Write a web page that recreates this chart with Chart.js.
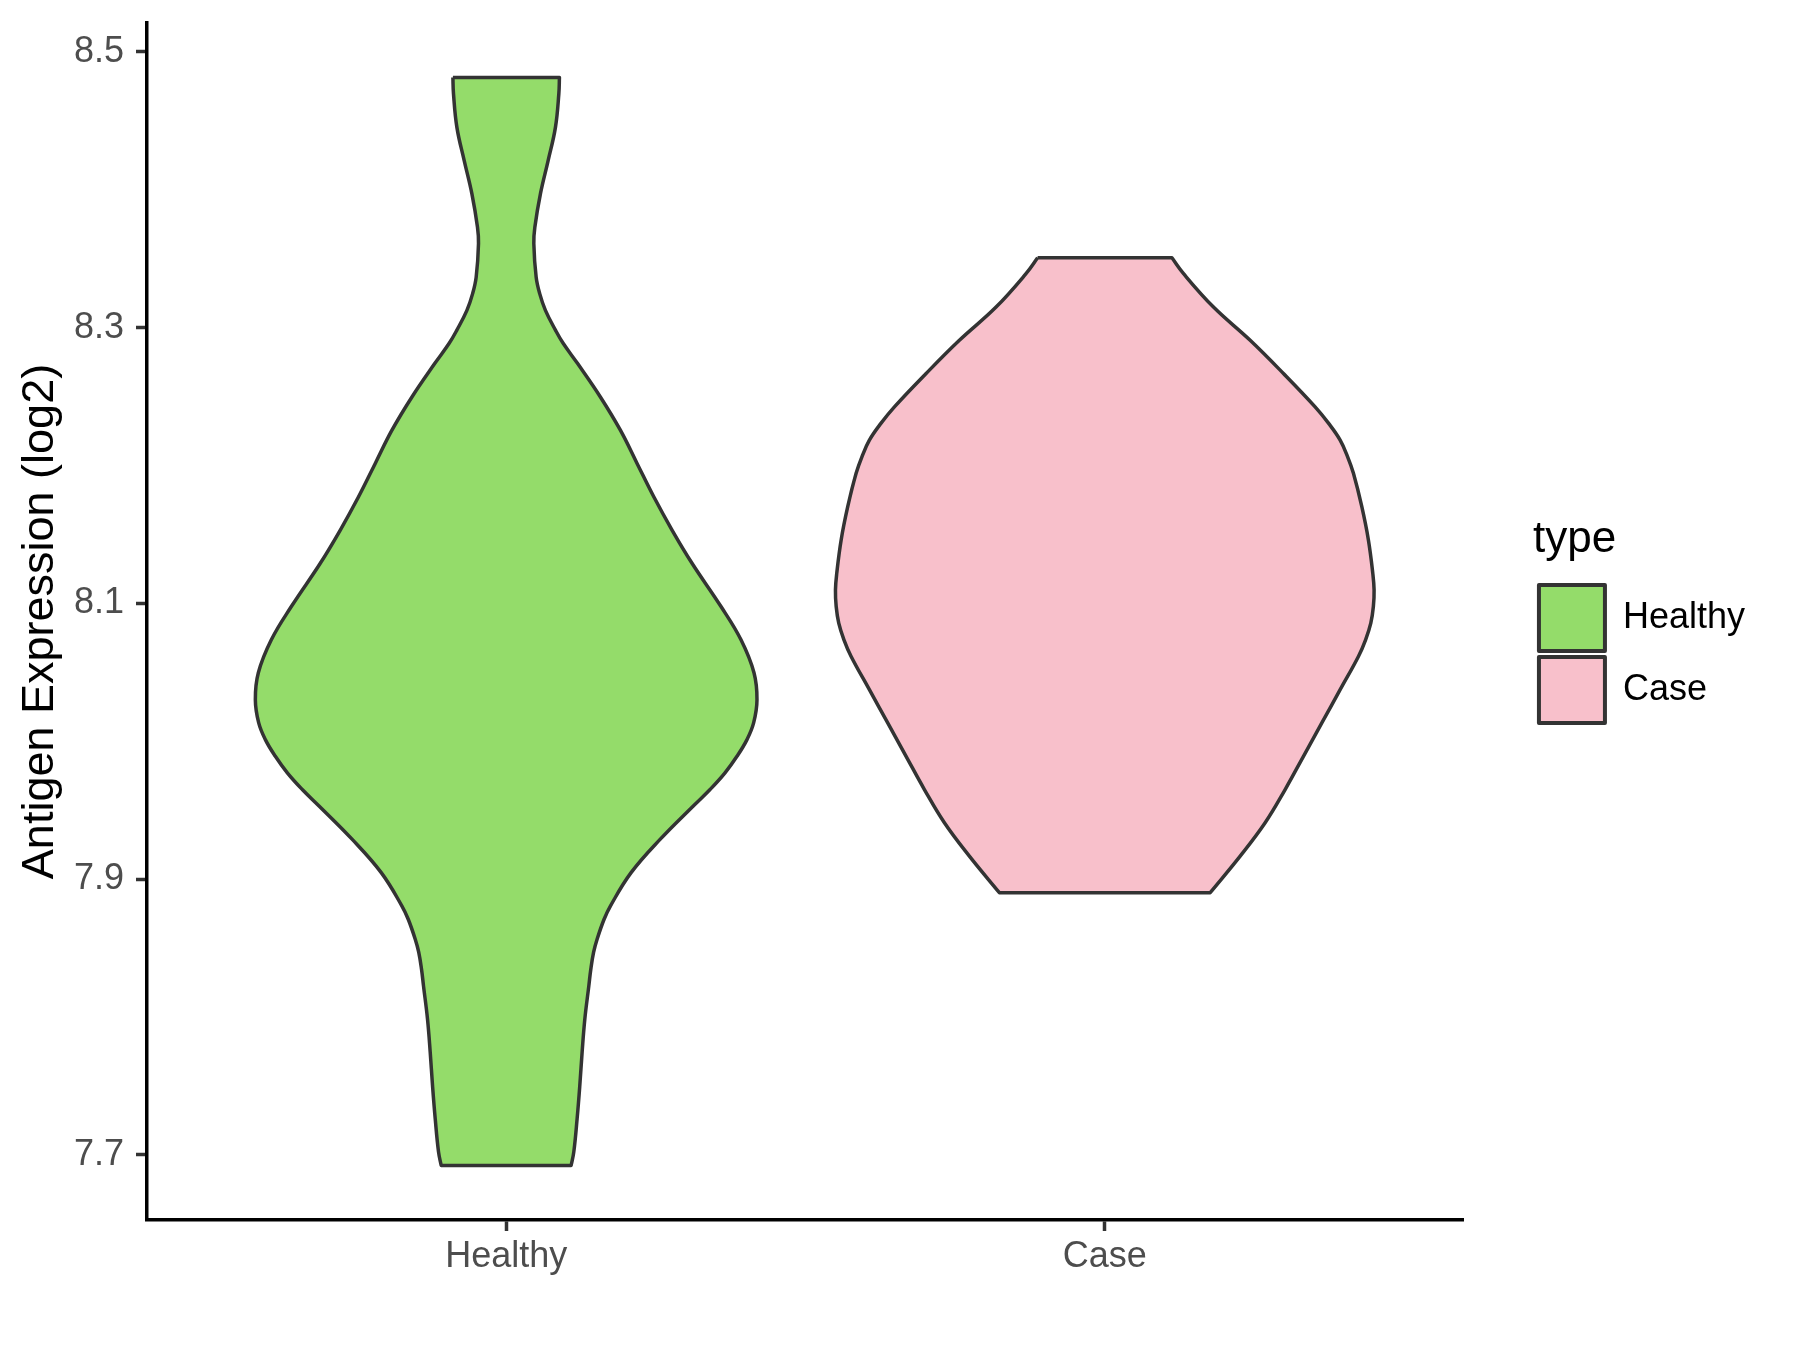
<!DOCTYPE html>
<html>
<head>
<meta charset="utf-8">
<script src="https://cdn.jsdelivr.net/npm/chart.js@4/dist/chart.umd.min.js"></script>
<style>
  html, body { margin: 0; padding: 0; background: #fff; }
  canvas { display: block; }
</style>
</head>
<body>
<canvas id="violin" width="1800" height="1350"></canvas>
<script>
// categories on the x axis
const categories = ['Healthy', 'Case'];

// violin outlines: expression values (y) and half-widths (in category units)
const healthyY = [8.4814, 8.4696, 8.4452, 8.4211, 8.3972, 8.3728, 8.3610, 8.3366, 8.3248, 8.3125,
  8.2980, 8.2886, 8.2739, 8.2497, 8.2256, 8.2015, 8.1773, 8.1532, 8.1291, 8.0977,
  8.0736, 8.0497, 8.0301, 8.0135, 8.0012, 7.9891, 7.9771, 7.9650, 7.9529, 7.9288,
  7.9047, 7.8805, 7.8709, 7.8564, 7.8470, 7.8347, 7.8226, 7.7985, 7.7746, 7.7502,
  7.7261, 7.7022, 7.6923];
const healthyW = [0.0890, 0.0880, 0.0823, 0.0701, 0.0573, 0.0479, 0.0462, 0.0501, 0.0559, 0.0656,
  0.0826, 0.0952, 0.1194, 0.1574, 0.1908, 0.2187, 0.2466, 0.2771, 0.3105, 0.3589,
  0.3923, 0.4140, 0.4190, 0.4135, 0.4023, 0.3856, 0.3656, 0.3406, 0.3122, 0.2571,
  0.2087, 0.1741, 0.1636, 0.1519, 0.1461, 0.1414, 0.1381, 0.1314, 0.1269, 0.1230,
  0.1185, 0.1130, 0.1085];

const caseY = [8.3506, 8.3391, 8.3149, 8.2908, 8.2667, 8.2425, 8.2305, 8.2184, 8.2063, 8.1943,
  8.1701, 8.1460, 8.1219, 8.1098, 8.0977, 8.0857, 8.0736, 8.0615, 8.0374, 8.0133,
  7.9891, 7.9650, 7.9409, 7.9167, 7.8902];
const caseW = [0.1122, 0.1316, 0.1816, 0.2429, 0.2985, 0.3514, 0.3740, 0.3932, 0.4057, 0.4154,
  0.4294, 0.4404, 0.4477, 0.4499, 0.4487, 0.4444, 0.4357, 0.4237, 0.3932, 0.3626,
  0.3319, 0.3013, 0.2679, 0.2262, 0.1761];

// y axis ticks
const yTicks = [7.7, 7.9, 8.1, 8.3, 8.5];

const fillColors = ['#94DC6A', '#F8C0CB'];

// closed outline: down the left side, back up the right side
// corner points are doubled so the curve keeps sharp corners there
function outline(center, ys, ws) {
  const left = ys.map((y, i) => ({ x: center - ws[i], y: y }));
  const right = ys.map((y, i) => ({ x: center + ws[i], y: y })).reverse();
  const n = left.length;
  return [...left, { ...left[n - 1] }, { ...right[0] }, ...right, { ...right[n - 1] }, { ...left[0] }];
}

function violin(label, data, color) {
  return {
    label: label,
    data: data,
    showLine: true,
    fill: 'shape',
    backgroundColor: color,
    borderColor: '#333333',
    borderWidth: 3.5,
    borderJoinStyle: 'round',
    pointRadius: 0,
    pointHoverRadius: 0,
    tension: 0.4
  };
}

Chart.defaults.font.family = '"Liberation Sans", Arial, sans-serif';

const ctx = document.getElementById('violin').getContext('2d');

new Chart(ctx, {
  type: 'scatter',
  data: {
    datasets: [
      violin(categories[0], outline(1, healthyY, healthyW), fillColors[0]),
      violin(categories[1], outline(2, caseY, caseW), fillColors[1])
    ]
  },
  options: {
    responsive: false,
    animation: false,
    devicePixelRatio: 1,
    layout: { autoPadding: false, padding: { top: 23, right: 45, bottom: 0, left: 0 } },
    plugins: {
      tooltip: { enabled: false },
      legend: {
        position: 'right',
        align: 'center',
        fullSize: false,
        onClick: null,
        title: {
          display: true,
          text: 'type',
          color: '#000000',
          position: 'start',
          font: { size: 44 },
          padding: { top: 4, bottom: 8 }
        },
        labels: {
          color: '#000000',
          font: { size: 36 },
          boxWidth: 66,
          boxHeight: 66,
          padding: 6,
          generateLabels: (chart) => {
            const items = Chart.defaults.plugins.legend.labels.generateLabels(chart);
            items.forEach(it => { it.lineWidth = 4; it.lineJoin = 'round'; });
            return items;
          }
        }
      }
    },
    scales: {
      x: {
        type: 'linear',
        min: 0.4,
        max: 2.6,
        afterBuildTicks: (s) => { s.ticks = categories.map((c, i) => ({ value: i + 1 })); },
        afterFit: (s) => { s.height = 130; },
        ticks: {
          color: '#4D4D4D',
          font: { size: 36 },
          padding: 4,
          maxRotation: 0,
          callback: (v) => categories[v - 1]
        },
        grid: {
          drawOnChartArea: false,
          drawTicks: true,
          tickLength: 11,
          tickWidth: 3.5,
          tickColor: '#333333'
        },
        border: { display: true, color: '#000000', width: 3.5 }
      },
      y: {
        type: 'linear',
        min: 7.6528,
        max: 8.5209,
        afterBuildTicks: (s) => { s.ticks = yTicks.map(v => ({ value: v })); },
        afterFit: (s) => { s.width = 147; },
        ticks: {
          color: '#4D4D4D',
          font: { size: 36, lineHeight: 0.5 },
          padding: 12,
          callback: (v) => v.toFixed(1)
        },
        grid: {
          drawOnChartArea: false,
          drawTicks: true,
          tickLength: 11,
          tickWidth: 3.5,
          tickColor: '#333333'
        },
        border: { display: true, color: '#000000', width: 3.5 },
        title: {
          display: true,
          text: 'Antigen Expression (log2)',
          color: '#000000',
          font: { size: 45 },
          padding: { top: 14, bottom: 0 }
        }
      },
      // empty spacer between the plot and the legend
      gap: {
        axis: 'y',
        position: 'right',
        display: true,
        grid: { display: false },
        border: { display: false },
        ticks: { display: false },
        afterFit: (s) => { s.width = 69; }
      }
    }
  }
});
</script>
</body>
</html>
